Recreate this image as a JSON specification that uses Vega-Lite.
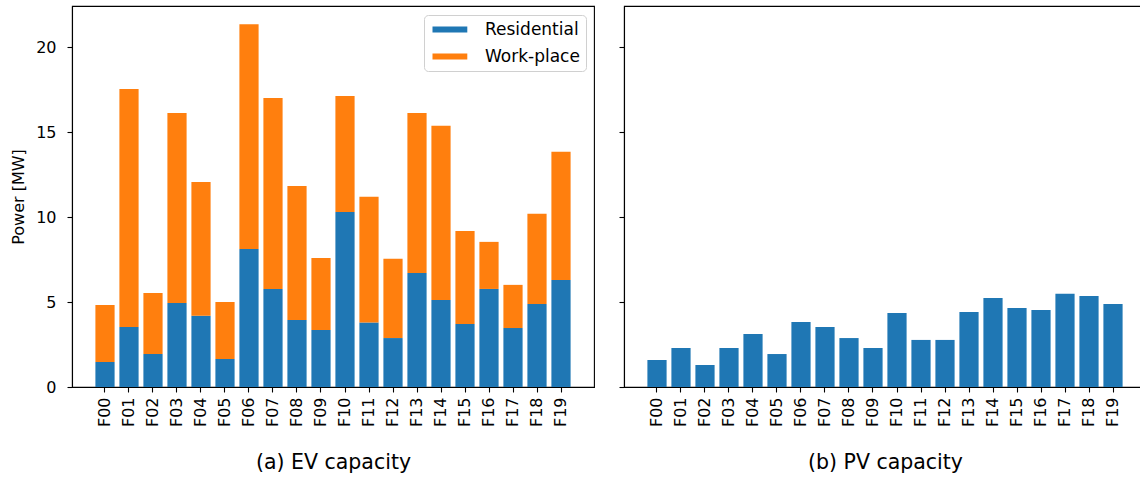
{
  "$schema": "https://vega.github.io/schema/vega-lite/v6.json",
  "background": "white",
  "padding": {"left": 10, "top": 5, "right": 0, "bottom": 0},
  "resolve": {"legend": {"color": "independent"}},
  "config": {
    "font": "DejaVu Sans",
    "view": {"stroke": "black", "strokeWidth": 1.1},
    "axis": {
      "domainColor": "black",
      "domainWidth": 1.1,
      "tickColor": "black",
      "tickSize": 5,
      "tickWidth": 1.1,
      "labelColor": "black",
      "labelFont": "DejaVu Sans",
      "labelFontSize": 16,
      "titleFont": "DejaVu Sans",
      "titleColor": "black",
      "titleFontWeight": "normal",
      "grid": false
    }
  },
  "datasets": {
    "ev": [
      {"feeder": "F00", "type": "Residential", "k": 0, "value": 1.47},
      {"feeder": "F00", "type": "Work-place", "k": 1, "value": 3.36},
      {"feeder": "F01", "type": "Residential", "k": 0, "value": 3.53},
      {"feeder": "F01", "type": "Work-place", "k": 1, "value": 14.01},
      {"feeder": "F02", "type": "Residential", "k": 0, "value": 1.94},
      {"feeder": "F02", "type": "Work-place", "k": 1, "value": 3.59},
      {"feeder": "F03", "type": "Residential", "k": 0, "value": 4.95},
      {"feeder": "F03", "type": "Work-place", "k": 1, "value": 11.18},
      {"feeder": "F04", "type": "Residential", "k": 0, "value": 4.20},
      {"feeder": "F04", "type": "Work-place", "k": 1, "value": 7.87},
      {"feeder": "F05", "type": "Residential", "k": 0, "value": 1.65},
      {"feeder": "F05", "type": "Work-place", "k": 1, "value": 3.35},
      {"feeder": "F06", "type": "Residential", "k": 0, "value": 8.12},
      {"feeder": "F06", "type": "Work-place", "k": 1, "value": 13.23},
      {"feeder": "F07", "type": "Residential", "k": 0, "value": 5.77},
      {"feeder": "F07", "type": "Work-place", "k": 1, "value": 11.24},
      {"feeder": "F08", "type": "Residential", "k": 0, "value": 3.94},
      {"feeder": "F08", "type": "Work-place", "k": 1, "value": 7.89},
      {"feeder": "F09", "type": "Residential", "k": 0, "value": 3.36},
      {"feeder": "F09", "type": "Work-place", "k": 1, "value": 4.23},
      {"feeder": "F10", "type": "Residential", "k": 0, "value": 10.30},
      {"feeder": "F10", "type": "Work-place", "k": 1, "value": 6.83},
      {"feeder": "F11", "type": "Residential", "k": 0, "value": 3.79},
      {"feeder": "F11", "type": "Work-place", "k": 1, "value": 7.40},
      {"feeder": "F12", "type": "Residential", "k": 0, "value": 2.88},
      {"feeder": "F12", "type": "Work-place", "k": 1, "value": 4.66},
      {"feeder": "F13", "type": "Residential", "k": 0, "value": 6.71},
      {"feeder": "F13", "type": "Work-place", "k": 1, "value": 9.42},
      {"feeder": "F14", "type": "Residential", "k": 0, "value": 5.12},
      {"feeder": "F14", "type": "Work-place", "k": 1, "value": 10.25},
      {"feeder": "F15", "type": "Residential", "k": 0, "value": 3.71},
      {"feeder": "F15", "type": "Work-place", "k": 1, "value": 5.47},
      {"feeder": "F16", "type": "Residential", "k": 0, "value": 5.77},
      {"feeder": "F16", "type": "Work-place", "k": 1, "value": 2.77},
      {"feeder": "F17", "type": "Residential", "k": 0, "value": 3.47},
      {"feeder": "F17", "type": "Work-place", "k": 1, "value": 2.54},
      {"feeder": "F18", "type": "Residential", "k": 0, "value": 4.89},
      {"feeder": "F18", "type": "Work-place", "k": 1, "value": 5.30},
      {"feeder": "F19", "type": "Residential", "k": 0, "value": 6.30},
      {"feeder": "F19", "type": "Work-place", "k": 1, "value": 7.54}
    ],
    "pv": [
      {"feeder": "F00", "value": 1.59},
      {"feeder": "F01", "value": 2.30},
      {"feeder": "F02", "value": 1.30},
      {"feeder": "F03", "value": 2.30},
      {"feeder": "F04", "value": 3.12},
      {"feeder": "F05", "value": 1.94},
      {"feeder": "F06", "value": 3.83},
      {"feeder": "F07", "value": 3.53},
      {"feeder": "F08", "value": 2.88},
      {"feeder": "F09", "value": 2.30},
      {"feeder": "F10", "value": 4.36},
      {"feeder": "F11", "value": 2.77},
      {"feeder": "F12", "value": 2.77},
      {"feeder": "F13", "value": 4.42},
      {"feeder": "F14", "value": 5.24},
      {"feeder": "F15", "value": 4.65},
      {"feeder": "F16", "value": 4.53},
      {"feeder": "F17", "value": 5.48},
      {"feeder": "F18", "value": 5.36},
      {"feeder": "F19", "value": 4.89}
    ]
  },
  "spacing": 22,
  "hconcat": [
    {
      "width": 522,
      "height": 381,
      "data": {"name": "ev"},
      "mark": {"type": "bar"},
      "encoding": {
        "x": {
          "field": "feeder", "type": "nominal",
          "scale": {"paddingInner": 0.2, "paddingOuter": 0.975},
          "axis": {"labelAngle": -90, "title": "(a) EV capacity", "titleFontSize": 20.5, "titlePadding": 26, "labelPadding": 5}
        },
        "y": {
          "field": "value", "type": "quantitative", "stack": "zero",
          "scale": {"domain": [0, 22.42], "nice": false, "zero": true},
          "axis": {"values": [0, 5, 10, 15, 20], "title": "Power [MW]", "titleFontSize": 16, "titlePadding": 9, "labelPadding": 11}
        },
        "color": {
          "field": "type", "type": "nominal",
          "scale": {"domain": ["Residential", "Work-place"], "range": ["#1f77b4", "#ff7f0e"]},
          "legend": {
            "title": null,
            "orient": "top-right",
            "offset": 8.5,
            "fillColor": "white",
            "strokeColor": "#d0d0d0",
            "cornerRadius": 4,
            "padding": 6,
            "symbolType": "M-1,-0.5L4.8,-0.5L4.8,0.5L-1,0.5Z",
            "symbolSize": 144,
            "symbolStrokeWidth": 0,
            "symbolOpacity": 1,
            "labelFontSize": 17,
            "labelColor": "black",
            "labelOffset": 38,
            "rowPadding": 9
          }
        },
        "order": {"field": "k", "type": "quantitative", "sort": "ascending"}
      }
    },
    {
      "width": 522,
      "height": 381,
      "data": {"name": "pv"},
      "mark": {"type": "bar", "color": "#1f77b4"},
      "encoding": {
        "x": {
          "field": "feeder", "type": "nominal",
          "scale": {"paddingInner": 0.2, "paddingOuter": 0.975},
          "axis": {"labelAngle": -90, "title": "(b) PV capacity", "titleFontSize": 20.5, "titlePadding": 26, "labelPadding": 5}
        },
        "y": {
          "field": "value", "type": "quantitative",
          "scale": {"domain": [0, 22.42], "nice": false, "zero": true},
          "axis": {"values": [0, 5, 10, 15, 20], "title": null, "labels": false}
        }
      }
    }
  ]
}
